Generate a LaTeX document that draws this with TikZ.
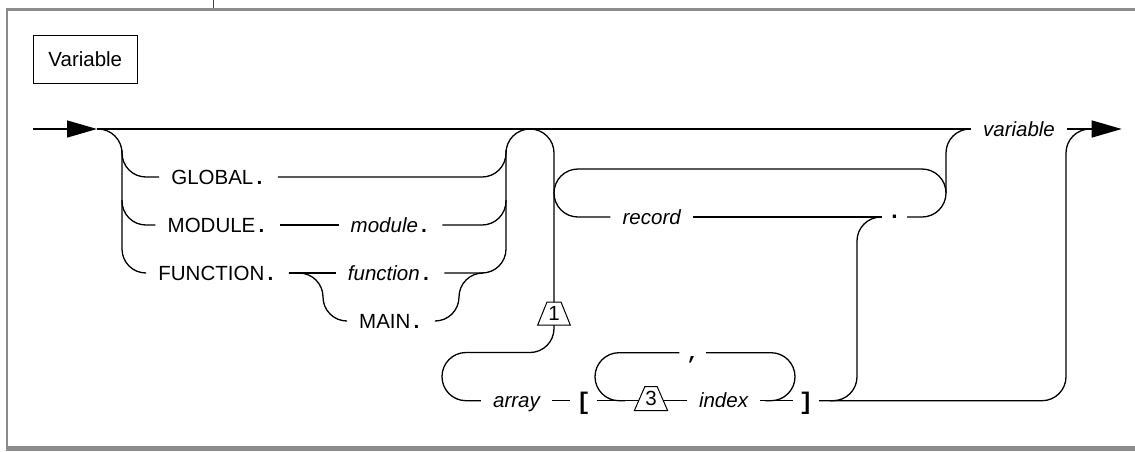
\documentclass[tikz,border=0pt]{standalone}
\usepackage{fontspec}
\setmainfont{Liberation Sans}
\newfontfamily\pmono{Liberation Mono}
\usetikzlibrary{arrows.meta,calc}
\definecolor{framegray}{RGB}{140,140,140}
\newcommand\pdot{{\pmono\bfseries\upshape .}}
\begin{document}
\begin{tikzpicture}[x=1pt,y=-1pt,
  rr/.style={line width=1.3pt, rounded corners=24pt},
  ln/.style={line width=1.3pt},
  lbl/.style={inner xsep=12pt, inner ysep=0pt, text height=14pt, text depth=0pt, font=\fontsize{20.5}{24}\selectfont},
  ilbl/.style={lbl, font=\fontsize{20.5}{24}\selectfont\itshape},
  pun/.style={inner xsep=7pt, inner ysep=0pt, text height=14pt, text depth=0pt, font=\fontsize{20.5}{24}\selectfont\pmono\bfseries},
  dotst/.style={pun, font=\fontsize{23}{26}\selectfont\pmono\bfseries, inner xsep=5.6pt, text height=3pt, text depth=0pt},
  commast/.style={pun},
  brk/.style={inner xsep=5.8pt, inner ysep=0pt, text height=18pt, text depth=0pt, font=\fontsize{24}{28}\selectfont\pmono\bfseries},
  num/.style={inner sep=0pt, text height=14pt, text depth=0pt, font=\fontsize{20.5}{24}\selectfont},
  trap/.style={line width=1pt},
  endarrow/.style={-{Triangle[length=30pt,width=17pt]}},
]
\useasboundingbox (0,0) rectangle (1135,451);
% frame
\draw[framegray, line width=2.6pt] (7,451) -- (7,9.5) -- (1135,9.5);
\draw[framegray, line width=5pt] (5.7,448.5) -- (1135,448.5);
\draw[black!75, line width=1pt] (213.3,0) -- (213.3,8.2);

% title
\node[lbl, draw, line width=1pt, minimum width=104pt, minimum height=48pt] (title) at (85.3,59.2) {Variable};

% coordinates
\coordinate (start) at (33,129);
\coordinate (a1) at (97,129);
\coordinate (finish) at (1121.7,129);

% labels
\node[lbl] (glob) at (218.5,177) {GLOBAL\pdot};
\node[lbl] (mod) at (217.7,225) {MODULE\pdot};
\node[lbl] (fun) at (217.5,273) {FUNCTION\pdot};
\node[ilbl] (modv) at (390.5,225) {module\pdot};
\node[ilbl] (funv) at (390,273) {function\pdot};
\node[lbl] (mainn) at (391,321) {MAIN\pdot};
\node[ilbl] (rec) at (651.7,217) {record};
\node[dotst] (dot) at (894.5,217) {.};
\node[ilbl] (var) at (1019,129) {variable};
\node[num] (t1) at (554,313.5) {1};
\node[ilbl] (arr) at (516.5,400.7) {array};
\node[brk] (lbr) at (583.5,400.7) {[};
\node[num] (t3) at (651,398.7) {3};
\node[ilbl] (idx) at (723.5,400.7) {index};
\node[brk] (rbr) at (806,400.7) {]};
\node[commast] (com) at (692.7,352.7) {,};

% trapezoids
\draw[trap] ($(t1)+(-7,-11.5)$) -- ($(t1)+(7,-11.5)$) -- ($(t1)+(16.3,11.5)$) -- ($(t1)+(-16.3,11.5)$) -- cycle;
\coordinate (t1n) at ($(t1)+(0,-11.5)$);
\coordinate (t1s) at ($(t1)+(0,11.5)$);
\draw[trap] ($(t3)+(-6.2,-12)$) -- ($(t3)+(6.2,-12)$) -- ($(t3)+(16.7,12)$) -- ($(t3)+(-16.7,12)$) -- cycle;
\coordinate (t3w) at ($(t3)+(-12.3,2)$);
\coordinate (t3e) at ($(t3)+(12.3,2)$);

% main line and arrows
\draw[ln, endarrow] (start) -- (a1);
\draw[ln] (a1) -- (var.west);
\draw[ln, endarrow] (var.east) -- (finish);

% left choice
\draw[rr] (a1) -- (122,129) -- (122,177) -- (glob.west);
\draw[rr] (122,150) -- (122,225) -- (mod.west);
\draw[rr] (122,200) -- (122,273) -- (fun.west);

% right of choice
\draw[rr] (glob.east) -- (506,177) -- (506,129) -- (554,129) -- (t1n);
\draw[ln] (mod.east) -- (modv.west);
\draw[rr] (modv.east) -- (506,225) -- (506,150);
\draw[ln] (fun.east) -- (funv.west);
\draw[rr] (funv.east) -- (506,273) -- (506,200);
\draw[rr] (fun.east) -- (323,273) -- (323,321) -- (mainn.west);
\draw[rr] (mainn.east) -- (459,321) -- (459,273) -- (483,273);

% record loop
\draw[rr] (dot.east) -- (946,217) -- (946,169) -- (554,169) -- (554,217) -- (rec.west);
\draw[ln] (rec.east) -- (dot.west);
\draw[rr] (946,193) -- (946,129) -- (var.west);

% array branch
\draw[rr] (t1s) -- (554,352.5) -- (442,352.5) -- (442,400.7) -- (arr.west);
\draw[ln] (arr.east) -- (lbr.west);
\draw[ln] (lbr.east) -- (t3w);
\draw[ln] (t3e) -- (idx.west);
\draw[ln] (idx.east) -- (rbr.west);
\draw[rr] (com.west) -- (595,352.7) -- (595,400.7) -- (625,400.7);
\draw[rr] (com.east) -- (795,352.7) -- (795,400.7) -- (765,400.7);
\draw[rr] (rbr.east) -- (1066,400.7) -- (1066,129) -- (1095,129);
\draw[rr] (830,400.7) -- (857,400.7) -- (857,217) -- (dot.west);
\end{tikzpicture}
\end{document}
